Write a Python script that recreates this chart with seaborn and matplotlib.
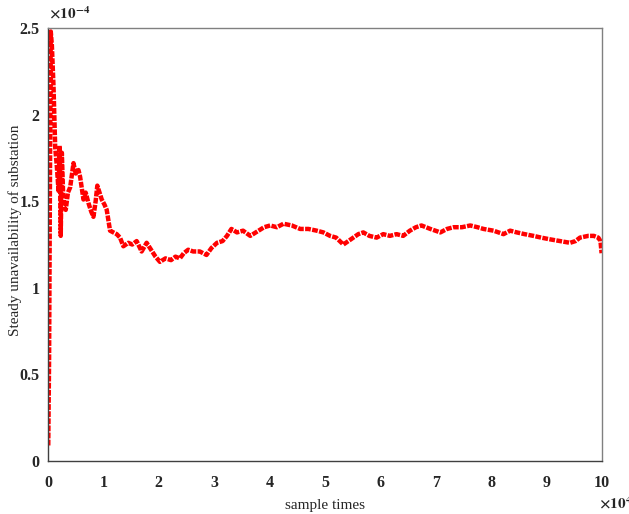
import matplotlib
matplotlib.use("Agg")
import matplotlib.pyplot as plt
import numpy as np
import pandas as pd
import seaborn as sns

# sample times (x 1e4) and steady unavailability (x 1e-4)
sample_times = [
    0.005, 0.02, 0.035, 0.05, 0.07, 0.10, 0.13, 0.16, 0.19, 0.21, 0.23, 0.25,
    0.28, 0.32, 0.36, 0.40, 0.46, 0.50, 0.55, 0.58, 0.64, 0.68, 0.73, 0.78,
    0.82, 0.86, 0.89, 0.93, 0.97, 1.02, 1.06, 1.12, 1.18, 1.24, 1.30, 1.36,
    1.45, 1.52, 1.60, 1.69, 1.78, 1.86, 1.94, 2.02, 2.12, 2.22, 2.30, 2.38,
    2.45, 2.53, 2.62, 2.74, 2.86, 2.95, 3.05, 3.15, 3.23, 3.31, 3.41, 3.52,
    3.65, 3.80, 3.90, 4.01, 4.13, 4.25, 4.40, 4.55, 4.70, 4.85, 4.97, 5.09,
    5.20, 5.33, 5.42, 5.51, 5.60, 5.69, 5.80, 5.93, 6.05, 6.17, 6.29, 6.41,
    6.53, 6.64, 6.74, 6.90, 7.08, 7.20, 7.32, 7.47, 7.62, 7.75, 7.86, 8.04,
    8.22, 8.34, 8.46, 8.60, 8.76, 8.90, 9.06, 9.24, 9.42, 9.52, 9.60, 9.75,
    9.85, 9.93, 9.97, 9.99,
]
unavailability = [
    0.09, 0.60, 1.60, 2.48, 2.40, 2.16, 1.81, 1.70, 1.56, 1.82, 1.30, 1.78,
    1.47, 1.45, 1.55, 1.58, 1.72, 1.66, 1.68, 1.64, 1.51, 1.55, 1.49, 1.44,
    1.41, 1.50, 1.59, 1.55, 1.51, 1.48, 1.45, 1.33, 1.32, 1.31, 1.29, 1.24,
    1.26, 1.25, 1.27, 1.21, 1.26, 1.22, 1.18, 1.15, 1.17, 1.16, 1.18, 1.17,
    1.20, 1.22, 1.21, 1.21, 1.19, 1.23, 1.26, 1.27, 1.30, 1.34, 1.32, 1.33,
    1.30, 1.33, 1.35, 1.36, 1.35, 1.37, 1.36, 1.34, 1.34, 1.33, 1.32, 1.30,
    1.29, 1.25, 1.27, 1.29, 1.31, 1.32, 1.30, 1.29, 1.31, 1.30, 1.31, 1.30,
    1.33, 1.35, 1.36, 1.34, 1.32, 1.34, 1.35, 1.35, 1.36, 1.35, 1.34, 1.33,
    1.31, 1.33, 1.32, 1.31, 1.30, 1.29, 1.28, 1.27, 1.26, 1.27, 1.29, 1.30,
    1.30, 1.29, 1.27, 1.20,
]
x_ticks = [0, 1, 2, 3, 4, 5, 6, 7, 8, 9, 10]
y_ticks = [0, 0.5, 1, 1.5, 2, 2.5]
y_tick_labels = ["0", "0.5", "1", "1.5", "2", "2.5"]

sns.set_style("white")
plt.rcParams["font.family"] = ["Liberation Serif", "DejaVu Serif"]
plt.rcParams["mathtext.fontset"] = "stix"

df = pd.DataFrame({"t": sample_times, "u": unavailability})

fig = plt.figure(figsize=(6.29, 5.14), dpi=100)
ax = fig.add_axes([0.0763, 0.103, 0.881, 0.8425])
sns.lineplot(data=df, x="t", y="u", sort=False, estimator=None, ax=ax,
             color="#ff0000", linewidth=3.2, linestyle=(0, (1.3, 0.3)))

ax.set_xlim(0, 10)
ax.set_ylim(0, 2.5)
ax.set_xticks(x_ticks)
ax.set_yticks(y_ticks)
ax.set_yticklabels(y_tick_labels)
for lab in ax.get_xticklabels() + ax.get_yticklabels():
    lab.set_fontweight("bold")
    lab.set_fontsize(11.5)
ax.tick_params(direction="in", length=4, width=0.8, color="#404040")
ax.tick_params(axis="x", pad=10)
ax.tick_params(axis="y", pad=6)
for s in ax.spines.values():
    s.set_color("#808080")
    s.set_linewidth(1.0)
ax.spines["left"].set_color("#404040")
ax.spines["bottom"].set_color("#404040")

ax.set_xlabel("sample times", fontsize=11, labelpad=6)
ax.set_ylabel("Steady unavailability of substation", fontsize=11)
ax.yaxis.set_label_coords(-0.047, 0.533)

fig.text(0.078, 0.958, r"$\mathbf{\times 10^{-4}}$", fontsize=11, ha="left", va="bottom")
fig.text(0.953, 0.004, r"$\mathbf{\times 10^{4}}$", fontsize=11, ha="left", va="bottom")

fig.savefig("out.png", dpi=100)
